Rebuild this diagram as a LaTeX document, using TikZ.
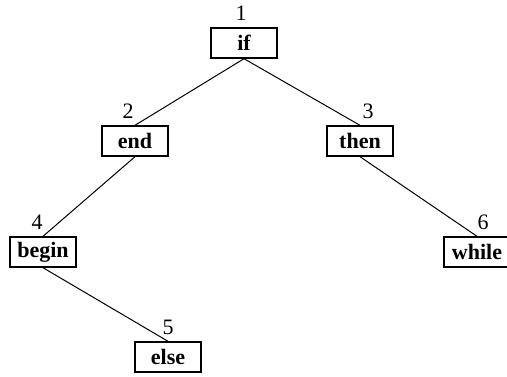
\documentclass[tikz,border=0pt]{standalone}
\usepackage{fontspec}
\setmainfont{Liberation Serif}
\usetikzlibrary{positioning}
\tikzset{
	word/.style  ={rectangle, draw=black, line width=0.7pt, minimum width=33pt, minimum height=15pt, inner sep=2pt, align=center, font=\fontsize{11}{13}\bfseries\selectfont},
	num/.style   ={label distance=1pt, inner sep=2pt, font=\fontsize{11}{13}\selectfont},
	branch/.style={line width=0.5pt},
}
\begin{document}
\begin{tikzpicture}[x=0.5pt, y=-0.5pt]
	\useasboundingbox (0,0) rectangle (507,376);
	% keywords
	\node[word, label={[num, xshift=-1.5pt]above:1}] (if)    at (244,43)  {if};
	\node[word, label={[num, xshift=-3.5pt]above:2}] (end)   at (135,141) {end};
	\node[word, label={[num, xshift=4pt]above:3}]    (then)  at (360,141) {then};
	\node[word, label={[num, xshift=-3pt]above:4}]   (begin) at (43,252)  {begin};
	\node[word, label={[num, xshift=3pt]above:6}]    (while) at (477,252) {while};
	\node[word, label={[num]above:5}]                (else)  at (168,357) {else};
	% tree edges
	\draw[branch] (if.south) -- (end.north);
	\draw[branch] (if.south) -- (then.north);
	\draw[branch] (end.south) -- (begin.north);
	\draw[branch] (begin.south) -- (else.north);
	\draw[branch] (then.south) -- (while.north);
\end{tikzpicture}
\end{document}
